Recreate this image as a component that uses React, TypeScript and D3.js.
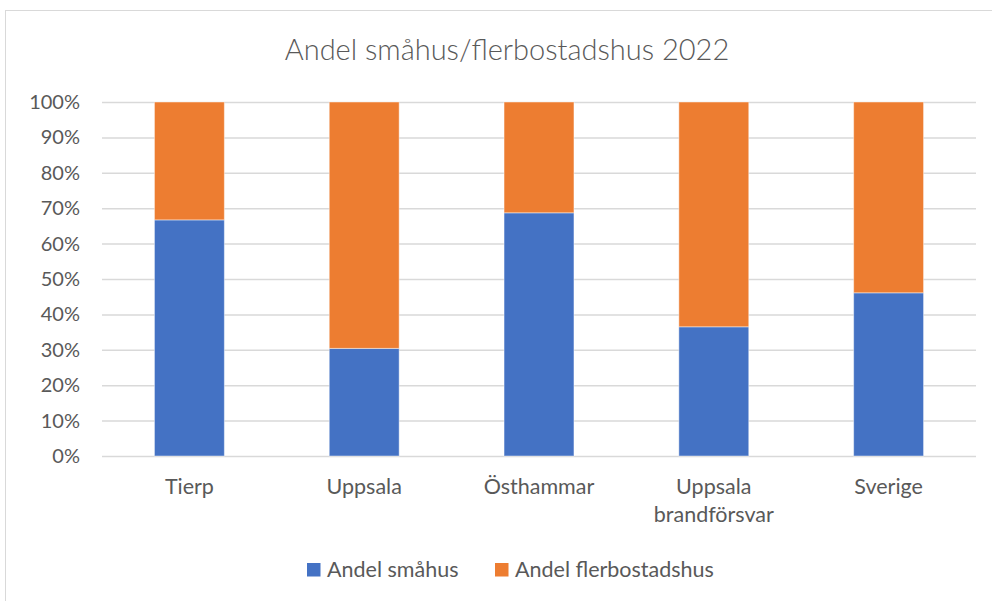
import { useEffect, useRef } from "react";
import * as d3 from "d3";

const categories = ["Tierp", "Uppsala", "Östhammar", "Uppsala brandförsvar", "Sverige"];
const smahus = [0.667, 0.304, 0.687, 0.365, 0.461];
const flerbostadshus = [0.333, 0.696, 0.313, 0.635, 0.539];
const seriesNames = ["Andel småhus", "Andel flerbostadshus"];
const seriesColors = ["#4472c4", "#ed7d31"];
const yTicks = [0, 0.1, 0.2, 0.3, 0.4, 0.5, 0.6, 0.7, 0.8, 0.9, 1];

function App() {
    const width = 992, height = 601;
    const margin = { top: 102, right: 16, bottom: 145, left: 102 };
    const font = "Lato, 'Open Sans', sans-serif";
    const textColor = "#595959";
    const svgRef = useRef(null);

    useEffect(() => {
        document.body.style.margin = "0";
        const svg = d3.select(svgRef.current).attr("width", width).attr("height", height);
        svg.selectAll("*").remove();
        drawChart(svg);
    }, []);

    function drawChart(svg) {
        const x = d3.scaleBand()
            .domain(categories)
            .range([margin.left, width - margin.right])
            .paddingInner(0.6)
            .paddingOuter(0.3);

        const y = d3.scaleLinear()
            .domain([0, 1])
            .range([height - margin.bottom, margin.top]);

        // chart frame
        svg.append("rect")
            .attr("x", 5.5).attr("y", 10.5)
            .attr("width", 1000).attr("height", 700)
            .attr("fill", "#fff")
            .attr("stroke", "#d9d9d9");

        svg.append("text")
            .attr("x", 507)
            .attr("y", 60)
            .attr("text-anchor", "middle")
            .attr("fill", textColor)
            .style("font-family", font)
            .style("font-weight", 300)
            .style("font-size", "29px")
            .text("Andel småhus/flerbostadshus 2022");

        // gridlines + y labels
        const yAxis = svg.append("g")
            .attr("transform", `translate(${margin.left}, 0)`)
            .call(d3.axisLeft(y).tickValues(yTicks).tickFormat(d3.format(".0%"))
                .tickSize(-(width - margin.right - margin.left)).tickPadding(22));
        yAxis.select(".domain").remove();
        yAxis.selectAll(".tick line").attr("stroke", "#d9d9d9").attr("stroke-width", 1.5);
        yAxis.selectAll(".tick text")
            .attr("fill", textColor)
            .style("font-family", font)
            .style("font-size", "20px");

        const rows = categories.map((c, i) => ({ category: c, values: [smahus[i], flerbostadshus[i]] }));
        const stack = d3.stack().keys([0, 1]).value((d, k) => d.values[k]);
        const layers = stack(rows);

        svg.append("g").selectAll("g")
            .data(layers)
            .enter().append("g")
            .attr("fill", (d, i) => seriesColors[i])
            .selectAll("rect")
            .data(d => d)
            .enter().append("rect")
            .attr("x", d => x(d.data.category))
            .attr("y", d => y(d[1]))
            .attr("width", x.bandwidth())
            .attr("height", d => y(d[0]) - y(d[1]))
            .attr("stroke", "rgba(255,255,255,0.45)")
            .attr("stroke-width", 1);

        // x labels, long names wrap on spaces
        const xLabels = svg.append("g");
        categories.forEach(c => {
            const lines = c.length > 12 ? c.split(" ") : [c];
            const t = xLabels.append("text")
                .attr("text-anchor", "middle")
                .attr("fill", textColor)
                .style("font-family", font)
                .style("font-size", "21.5px");
            lines.forEach((line, i) => {
                t.append("tspan")
                    .attr("x", x(c) + x.bandwidth() / 2)
                    .attr("y", 494 + i * 28)
                    .text(line);
            });
        });

        // legend
        const legendX = [307, 495];
        const legend = svg.append("g");
        seriesNames.forEach((name, i) => {
            legend.append("rect")
                .attr("x", legendX[i]).attr("y", 563)
                .attr("width", 13.5).attr("height", 13.5)
                .attr("fill", seriesColors[i]);
            legend.append("text")
                .attr("x", legendX[i] + 20).attr("y", 577)
                .attr("fill", textColor)
                .style("font-family", font)
                .style("font-size", "21.5px")
                .text(name);
        });
    }

    return (
        <div>
            <svg ref={svgRef}></svg>
        </div>
    );
}

export default App;
